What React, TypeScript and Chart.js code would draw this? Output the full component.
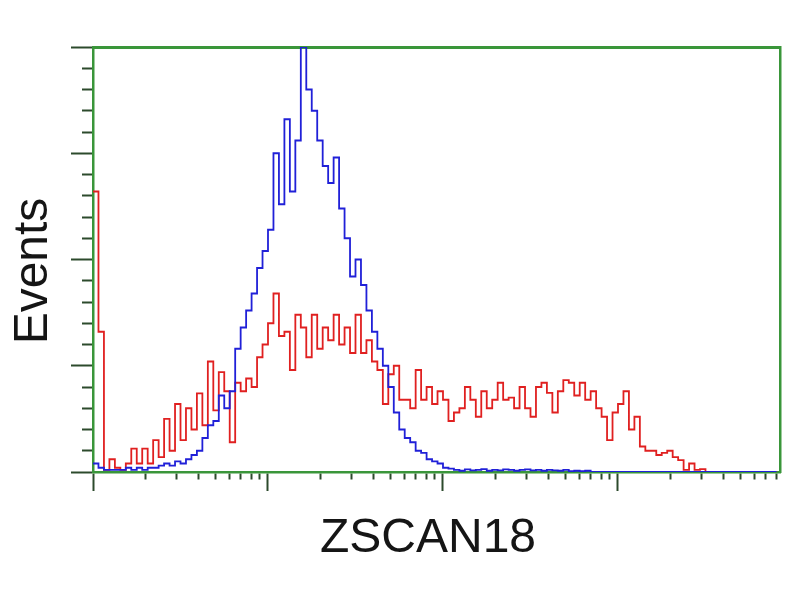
import React, { useEffect, useRef } from 'react';
import { Chart, registerables } from 'chart.js';

Chart.register(...registerables);

// Histogram bins: 8 channels each on a 1024-channel, 4-decade log display
const CHANNELS_PER_DECADE = 256;
const BIN_WIDTH = 8;
const X_MAX_CHANNEL = 1005;

const BLUE_COUNTS = [
  2, 1, 0.5, 0.5, 0.5, 0.5, 1, 0.5, 1, 0.5,
  1, 1, 1.5, 2, 1.5, 2.5, 2, 3, 4, 5,
  8, 11, 12, 18, 15, 19, 29, 34, 38, 42,
  48, 52, 57, 75, 63, 83, 66, 78, 100, 90,
  85, 78, 72, 68, 74, 62, 55, 46, 50, 44,
  38, 33, 29, 25, 20, 14, 10, 8, 7, 5,
  4.5, 3, 2.5, 2, 1, 0.8,
  0.5, 0.3, 0.6, 0.4, 0.5, 0.7, 0.3, 0.5, 0.4, 0.6,
  0.5, 0.3, 0.5, 0.6, 0.4, 0.5, 0.3, 0.5, 0.4, 0.3,
  0.5, 0.2, 0.3, 0.2, 0.3,
  0, 0, 0, 0, 0, 0, 0, 0, 0, 0,
  0, 0, 0, 0, 0, 0, 0, 0, 0, 0,
  0, 0, 0, 0, 0, 0, 0, 0, 0, 0,
  0, 0, 0, 0, 0,
];

const RED_COUNTS = [
  66, 33, 0.5, 3, 1, 0.5, 2, 5.5, 2, 5.5,
  2, 7.5, 3.5, 12.5, 5, 16, 7.5, 15, 10, 18.5,
  11, 26, 14.5, 23.5, 19, 7, 21, 19, 22, 20,
  27, 30, 35, 42, 32, 33, 24, 37, 34, 27,
  37, 29, 34, 31, 37, 30, 34, 28, 37, 28,
  31, 26, 24, 16, 23, 25, 17, 17, 15, 24,
  17, 20, 16, 19, 17, 12, 14, 15, 20, 17,
  13, 19, 15, 17, 21, 17, 17.5, 15, 20, 15,
  13, 20, 21, 18.6, 14, 19, 21.6, 21, 18, 21,
  17, 19, 15, 13, 7.5, 14, 16, 19, 10, 13,
  6, 5, 5, 4, 4.5, 5, 3.5, 2.8, 0.5, 2,
  0.5, 0.7,
  0, 0, 0, 0, 0, 0, 0, 0, 0, 0,
  0, 0, 0, 0,
];

const X_TICKS = [
  1, 2, 3, 4, 5, 6, 7, 8, 9,
  10, 20, 30, 40, 50, 60, 70, 80, 90,
  100, 200, 300, 400, 500, 600, 700, 800, 900,
  1000, 2000, 3000, 4000, 5000, 6000, 7000, 8000,
];
const X_MAJOR_TICKS = [1, 10, 100, 1000];
const Y_TICKS = [0, 5, 10, 15, 20, 25, 30, 35, 40, 45, 50, 55, 60, 65, 70, 75, 80, 85, 90, 95, 100];
const Y_MAJOR_TICKS = [0, 25, 50, 75, 100];

const X_TITLE = 'ZSCAN18';
const Y_TITLE = 'Events';

const FRAME_GREEN = '#3a963a';
const TICK_COLOR = '#2c4a2c';
const BLUE = '#2020d8';
const RED = '#e02020';

const binIntensity = (i: number) => Math.pow(10, (i * BIN_WIDTH) / CHANNELS_PER_DECADE);
const toPoints = (counts: number[]) => counts.map((c, i) => ({ x: binIntensity(i), y: c }));

const titlesPlugin = {
  id: 'facsTitles',
  afterDraw(chart: any) {
    const { ctx, chartArea } = chart;
    ctx.save();
    ctx.fillStyle = '#151515';
    ctx.font = '48px "Liberation Sans", Arial, sans-serif';
    ctx.textAlign = 'center';
    ctx.textBaseline = 'alphabetic';
    ctx.fillText(X_TITLE, chartArea.left + 335, chartArea.bottom + 80);
    ctx.translate(chartArea.left - 46, chartArea.top + 224);
    ctx.rotate(-Math.PI / 2);
    ctx.fillText(Y_TITLE, 0, 0);
    ctx.restore();
  },
};

export default function App() {
  const ref = useRef<HTMLCanvasElement>(null);

  useEffect(() => {
    const canvas = ref.current;
    if (!canvas) return;
    const chart = new Chart(canvas, {
      type: 'line',
      data: {
        datasets: [
          {
            label: 'control',
            data: toPoints(BLUE_COUNTS),
            borderColor: BLUE,
            borderWidth: 1.8,
            stepped: 'before',
            pointRadius: 0,
            fill: false,
          },
          {
            label: 'ZSCAN18',
            data: toPoints(RED_COUNTS),
            borderColor: RED,
            borderWidth: 1.8,
            stepped: 'before',
            pointRadius: 0,
            fill: false,
          },
        ],
      },
      options: {
        animation: false,
        responsive: false,
        devicePixelRatio: 1,
        events: [],
        layout: { padding: { left: 0, top: 47, right: 20, bottom: 0 } },
        plugins: {
          legend: { display: false },
          tooltip: { enabled: false },
          title: { display: false },
        },
        scales: {
          x: {
            type: 'logarithmic',
            position: 'bottom',
            min: 1,
            max: Math.pow(10, X_MAX_CHANNEL / CHANNELS_PER_DECADE),
            afterBuildTicks: (s: any) => {
              s.ticks = X_TICKS.map((v) => ({ value: v, major: X_MAJOR_TICKS.includes(v) }));
            },
            afterFit: (s: any) => {
              s.height = 128;
            },
            ticks: { display: false },
            grid: {
              display: true,
              drawOnChartArea: false,
              drawTicks: true,
              tickLength: 19,
              tickColor: TICK_COLOR,
              tickWidth: 2,
              tickBorderDash: (ctx: any) =>
                ctx.tick && X_MAJOR_TICKS.includes(ctx.tick.value) ? [] : [6, 100],
            },
            border: { display: true, color: FRAME_GREEN, width: 2.5 },
          },
          y: {
            type: 'linear',
            position: 'left',
            min: 0,
            max: 100,
            afterBuildTicks: (s: any) => {
              s.ticks = Y_TICKS.map((v) => ({ value: v }));
            },
            afterFit: (s: any) => {
              s.width = 93;
            },
            ticks: { display: false },
            grid: {
              display: true,
              drawOnChartArea: false,
              drawTicks: true,
              tickLength: 22,
              tickColor: TICK_COLOR,
              tickWidth: 2,
              tickBorderDash: (ctx: any) =>
                ctx.tick && Y_MAJOR_TICKS.includes(ctx.tick.value) ? [] : [0, 11, 20, 100],
            },
            border: { display: true, color: FRAME_GREEN, width: 2.5 },
          },
          xTop: {
            type: 'linear',
            position: 'top',
            min: 0,
            max: 1,
            afterFit: (s: any) => {
              s.height = 0;
            },
            ticks: { display: false },
            grid: { display: false },
            border: { display: true, color: FRAME_GREEN, width: 3 },
          },
          yRight: {
            type: 'linear',
            position: 'right',
            min: 0,
            max: 1,
            afterFit: (s: any) => {
              s.width = 0;
            },
            ticks: { display: false },
            grid: { display: false },
            border: { display: true, color: FRAME_GREEN, width: 2.5 },
          },
        },
      } as any,
      plugins: [titlesPlugin],
    });
    return () => chart.destroy();
  }, []);

  return (
    <div style={{ position: 'absolute', left: 0, top: 0, width: 800, height: 600, background: '#ffffff' }}>
      <canvas ref={ref} width={800} height={600} style={{ display: 'block', width: 800, height: 600 }} />
    </div>
  );
}
